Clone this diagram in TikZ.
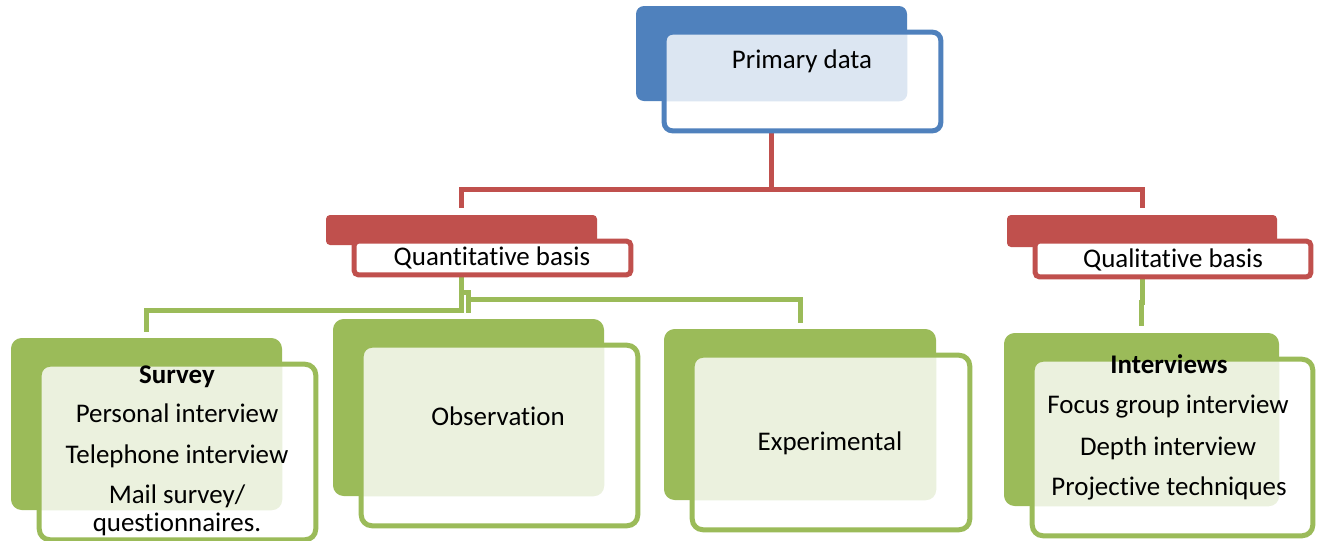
\documentclass[tikz,border=0pt]{standalone}
\usepackage{fontspec}
\setmainfont{Carlito}[RawFeature={-liga}]
\usetikzlibrary{fit,calc}
\definecolor{cblue}{HTML}{4F81BD}
\definecolor{cred}{HTML}{C0504D}
\definecolor{cgreen}{HTML}{9BBB59}
\pgfdeclarelayer{bg}
\pgfsetlayers{bg,main}
\tikzset{
  lbl/.style={anchor=base, inner sep=0pt, font=\fontsize{20.2}{24}\selectfont},
  redline/.style={draw=cred, line width=3.75pt},
  greenline/.style={draw=cgreen, line width=3.75pt},
}
% #1 name, #2 colour, #3 #4 front top-left, #5 #6 front bottom-right, #7 radius, #8 tint
\newcommand\mycard[8]{%
  \node (#1b) [fit={(#3-26,#4-24) (#5-36,#6-32)}, inner sep=0pt, fill=#2, rounded corners=#7] {};
  \node (#1) [fit={(#3+2.5,#4+2.5) (#5-2.5,#6-2.5)}, inner sep=0pt, fill=white, rounded corners=#7] {};
  \begin{scope}
    \clip[rounded corners=#7] (#1.south west) rectangle (#1.north east);
    \fill[#8, rounded corners=#7] (#1b.south west) rectangle (#1b.north east);
  \end{scope}
  \draw[#2, line width=3.75pt, rounded corners=#7] (#1.south west) rectangle (#1.north east);
}
\begin{document}
\begin{tikzpicture}[x=0.75pt, y=-0.75pt]
\useasboundingbox (0,0) rectangle (1317,540);

\mycard{pd}{cblue}{662}{30}{943}{133}{6pt}{cblue!20}
\mycard{qt}{cred}{352}{239}{633}{277}{3pt}{white}
\mycard{ql}{cred}{1033}{239}{1313}{279}{3pt}{white}
\mycard{sv}{cgreen}{37}{362}{318}{542}{8pt}{cgreen!20}
\mycard{ob}{cgreen}{359}{343}{640}{528}{8pt}{cgreen!20}
\mycard{ex}{cgreen}{690}{353}{972}{532}{8pt}{cgreen!20}
\mycard{in}{cgreen}{1030}{357}{1315}{538}{8pt}{cgreen!20}

\node[lbl] (tpd) at (802,68) {Primary data};
\node[lbl] (tqt) at (492,265) {Quantitative basis};
\node[lbl] (tql) at (1173,267) {Qualitative basis};
\node[lbl] (tsv1) at (177,383) {\bfseries Survey};
\node[lbl] (tsv2) at (177,422) {Personal interview};
\node[lbl] (tsv3) at (177,463) {Telephone interview};
\node[lbl] (tsv4) at (177,503) {Mail survey/};
\node[lbl] (tsv5) at (177,531) {questionnaires.};
\node[lbl] (tob) at (498,425) {Observation};
\node[lbl] (tex) at (830,450) {Experimental};
\node[lbl] (tin1) at (1169,373) {\bfseries Interviews};
\node[lbl] (tin2) at (1168,413) {Focus group interview};
\node[lbl] (tin3) at (1168,455) {Depth interview};
\node[lbl] (tin4) at (1169,495) {Projective techniques};

\begin{pgfonlayer}{bg}
  \fill[white] (0,0) rectangle (1317,540);
  \coordinate (rhub) at ($(pdb.south)+(0,88)$);
  \draw[redline] (pdb.south) -- (rhub);
  \draw[redline] ($(qtb.north)+(0,-7)$) |- (rhub) -| ($(qlb.north)+(0,-7)$);
  \coordinate (gj) at ($(qtb.south)+(0,47)$);
  \draw[greenline] (qtb.south) -- ++(0,65) -| ($(svb.north)+(0,-6)$);
  \draw[greenline] (qtb.south) -- (gj) -| ($(obb.north)+(0,-6)$);
  \draw[greenline] (gj) -| ($(obb.north)+(0,-19)$) -| ($(exb.north)+(0,-6)$);
  \draw[greenline] (qlb.south) -- ++(0,55) -| ($(inb.north)+(0,-7)$);
\end{pgfonlayer}
\end{tikzpicture}
\end{document}
